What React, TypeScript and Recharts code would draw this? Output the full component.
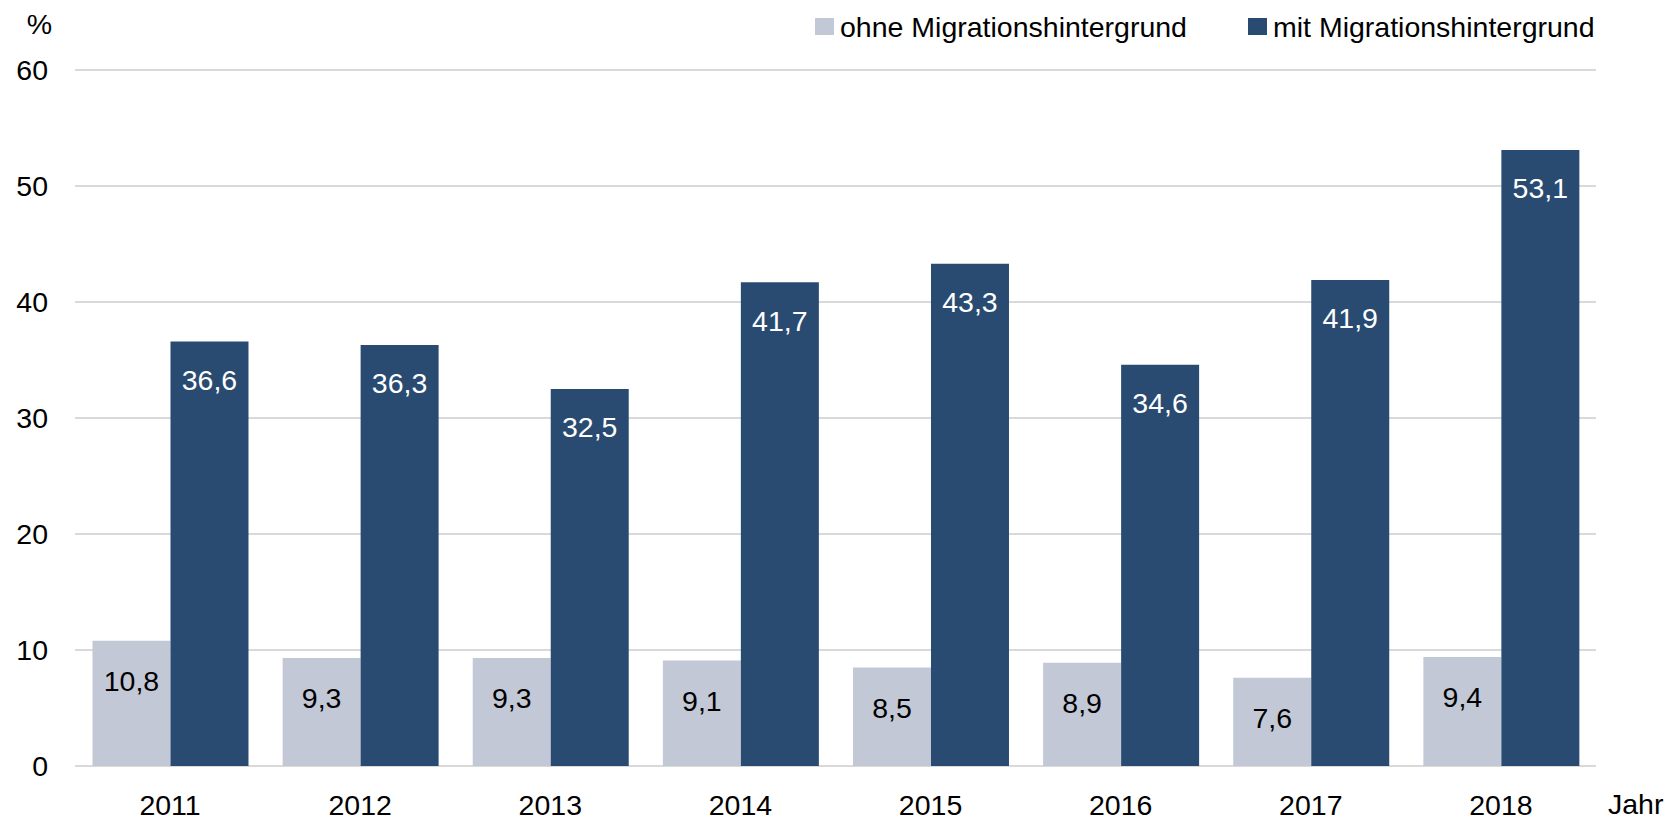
import React from 'react';
import { BarChart, Bar, XAxis, YAxis, CartesianGrid, Legend, LabelList } from 'recharts';

const years = ['2011', '2012', '2013', '2014', '2015', '2016', '2017', '2018'];
const ohneValues = [10.8, 9.3, 9.3, 9.1, 8.5, 8.9, 7.6, 9.4];
const mitValues = [36.6, 36.3, 32.5, 41.7, 43.3, 34.6, 41.9, 53.1];
const yTicks = [0, 10, 20, 30, 40, 50, 60];
const seriesNames = ['ohne Migrationshintergrund', 'mit Migrationshintergrund'];
const unitLabel = '%';
const axisLabel = 'Jahr';

const data = years.map((year, i) => ({ year, ohne: ohneValues[i], mit: mitValues[i] }));

const FONT = '"Liberation Sans", Arial, Helvetica, sans-serif';
const FS = 28.5;
const LIGHT = '#c3c8d6';
const DARK = '#294b72';
const W = 1677;
const H = 820;

const fmt = (v: any) => Number(v).toFixed(1).replace('.', ',');

const legendPos = [
  { box: 815, text: 840 },
  { box: 1248, text: 1273 },
];

const renderLegend = (props: any) => {
  const payload: any[] = props.payload || [];
  const ordered = seriesNames
    .map((n) => payload.find((p: any) => p.value === n))
    .filter(Boolean);
  return (
    <svg width={W} height={50} style={{ display: 'block' }}>
      {ordered.map((p: any, i: number) => (
        <g key={i}>
          <rect x={legendPos[i].box} y={18} width={19} height={17} fill={p.color} />
          <text x={legendPos[i].text} y={37} fontFamily={FONT} fontSize={FS} fill="#000">
            {p.value}
          </text>
        </g>
      ))}
    </svg>
  );
};

export default function App() {
  return (
    <div style={{ position: 'absolute', left: 0, top: 0, width: W, height: H, background: '#fff' }}>
      <BarChart
        width={W}
        height={H}
        data={data}
        margin={{ top: 70, right: 81, left: 0, bottom: 0 }}
        barCategoryGap="9.2%"
        barGap={0}
      >
        <CartesianGrid vertical={false} stroke="#d9d9d9" strokeWidth={2} />
        <XAxis
          dataKey="year"
          axisLine={false}
          tickLine={false}
          tickSize={0}
          tickMargin={29}
          height={54}
          interval={0}
          tick={{ fill: '#000', fontSize: FS, fontFamily: FONT }}
        />
        <YAxis
          width={75}
          domain={[0, 60]}
          ticks={yTicks}
          axisLine={false}
          tickLine={false}
          tickSize={0}
          tickMargin={27}
          tick={{ fill: '#000', fontSize: FS, fontFamily: FONT }}
        />
        <Legend
          layout="horizontal"
          verticalAlign="middle"
          align="center"
          content={renderLegend}
          wrapperStyle={{ position: 'absolute', left: 0, top: 0, width: W, height: 50 }}
        />
        <Bar dataKey="ohne" name={seriesNames[0]} fill={LIGHT} isAnimationActive={false}>
          <LabelList
            dataKey="ohne"
            position="insideTop"
            offset={30}
            formatter={fmt}
            fill="#000"
            fontSize={FS}
            fontFamily={FONT}
          />
        </Bar>
        <Bar dataKey="mit" name={seriesNames[1]} fill={DARK} isAnimationActive={false}>
          <LabelList
            dataKey="mit"
            position="insideTop"
            offset={28}
            formatter={fmt}
            fill="#fff"
            fontSize={FS}
            fontFamily={FONT}
          />
        </Bar>
      </BarChart>
      <svg
        width={W}
        height={H}
        style={{ position: 'absolute', left: 0, top: 0, pointerEvents: 'none' }}
      >
        <text x={39.5} y={34} textAnchor="middle" fontFamily={FONT} fontSize={FS} fill="#000">
          {unitLabel}
        </text>
        <text x={1608} y={814} fontFamily={FONT} fontSize={FS} fill="#000">
          {axisLabel}
        </text>
      </svg>
    </div>
  );
}
